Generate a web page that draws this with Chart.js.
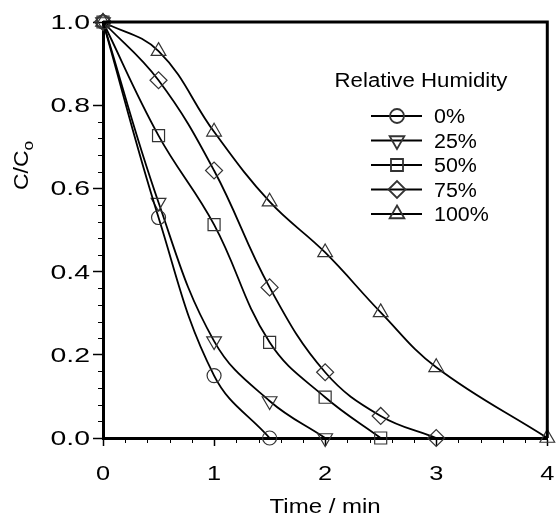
<!DOCTYPE html>
<html>
<head>
<meta charset="utf-8">
<script src="https://cdn.jsdelivr.net/npm/chart.js@4/dist/chart.umd.min.js"></script>
<style>
    html, body { margin: 0; padding: 0; background: #fff; }
    #decayChart { display: block; }
</style>
</head>
<body>
<canvas id="decayChart" width="557" height="518"></canvas>
<script>
// Values
const times = [0, 0.5, 1, 1.5, 2, 2.5, 3, 4];
const humidityLabels = ['0%', '25%', '50%', '75%', '100%'];
const rh0 = [1.0, 0.53, 0.15, 0.0];
const rh25 = [1.0, 0.566, 0.233, 0.089, 0.0];
const rh50 = [1.0, 0.727, 0.513, 0.230, 0.098, 0.0];
const rh75 = [1.0, 0.86, 0.643, 0.362, 0.158, 0.053, 0.0];
const rh100 = [1.0, 0.93, 0.736, 0.568, 0.446, 0.302, 0.170, 0.0];
const xTicks = [0, 1, 2, 3, 4];
const yTicks = [0.0, 0.2, 0.4, 0.6, 0.8, 1.0];

const FONT = "'Liberation Sans', Arial, sans-serif";

const markers = [
    { pointStyle: 'circle', rotation: 0, radius: 7 },
    { pointStyle: 'triangle', rotation: 180, radius: 8.5 },
    { pointStyle: 'rect', rotation: 0, radius: 8.5 },
    { pointStyle: 'rectRot', rotation: 0, radius: 8.5 },
    { pointStyle: 'triangle', rotation: 0, radius: 8.5 }
];

function toPoints(values) {
    return values.map((v, i) => ({ x: times[i], y: v }));
}

const series = [rh0, rh25, rh50, rh75, rh100];
const datasets = series.map((vals, i) => ({
    label: humidityLabels[i],
    data: toPoints(vals),
    borderColor: '#000',
    borderWidth: 1.8,
    tension: 0.4,
    pointStyle: markers[i].pointStyle,
    pointRotation: markers[i].rotation,
    pointRadius: markers[i].radius,
    pointBorderColor: '#333',
    pointBorderWidth: 1.2,
    pointBackgroundColor: 'rgba(0,0,0,0)',
    clip: false
}));

// text in the reference is horizontally stretched, so draw it with a x-scale
function stretchText(ctx, text, x, y, size, sx, align) {
    ctx.save();
    ctx.font = size + 'px ' + FONT;
    const w = ctx.measureText(text).width * sx;
    let left = x;
    if (align === 'center') left = x - w / 2;
    if (align === 'right') left = x - w;
    ctx.translate(left, y);
    ctx.scale(sx, 1);
    ctx.textAlign = 'left';
    ctx.textBaseline = 'alphabetic';
    ctx.fillText(text, 0, 0);
    ctx.restore();
    return w;
}

// tick labels, minor ticks, frame, axis titles and in-plot legend
const decorations = {
    id: 'decorations',
    afterDraw(chart) {
        const ctx = chart.ctx;
        const a = chart.chartArea;
        const xs = chart.scales.x;
        const ys = chart.scales.y;
        ctx.save();

        // minor ticks
        ctx.strokeStyle = '#000';
        ctx.lineWidth = 1;
        for (let i = 0; i <= 20; i++) {
            if (i % 5 === 0) continue;
            const px = Math.round(xs.getPixelForValue(i * 0.2)) + 0.5;
            ctx.beginPath();
            ctx.moveTo(px, a.bottom);
            ctx.lineTo(px, a.bottom + 5);
            ctx.stroke();
            const py = Math.round(ys.getPixelForValue(i * 0.04)) + 0.5;
            ctx.beginPath();
            ctx.moveTo(a.left, py);
            ctx.lineTo(a.left - 5, py);
            ctx.stroke();
        }

        // top and right frame
        ctx.lineWidth = 3;
        ctx.beginPath();
        ctx.moveTo(a.left, a.top);
        ctx.lineTo(a.right, a.top);
        ctx.lineTo(a.right, a.bottom);
        ctx.stroke();

        // tick labels
        ctx.fillStyle = '#000';
        xs.ticks.forEach(t => {
            stretchText(ctx, String(t.value), xs.getPixelForValue(t.value), 480, 19.5, 1.3, 'center');
        });
        ys.ticks.forEach(t => {
            stretchText(ctx, Number(t.value).toFixed(1), 90, ys.getPixelForValue(t.value) + 7, 20, 1.42, 'right');
        });

        // axis titles
        stretchText(ctx, 'Time / min', (a.left + a.right) / 2, 513, 20, 1.2, 'center');

        ctx.save();
        ctx.translate(28, 190);
        ctx.rotate(-Math.PI / 2);
        const w = stretchText(ctx, 'C/C', 0, 0, 20, 1.15, 'left');
        stretchText(ctx, 'o', w, 5, 15, 1.15, 'left');
        ctx.restore();

        // legend
        stretchText(ctx, 'Relative Humidity', 421, 87, 19.5, 1.14, 'center');
        chart.data.datasets.forEach((ds, i) => {
            const y = 116 + i * 24.5;
            ctx.strokeStyle = '#000';
            ctx.lineWidth = 1.8;
            ctx.beginPath();
            ctx.moveTo(371, y);
            ctx.lineTo(422, y);
            ctx.stroke();
            ctx.strokeStyle = '#333';
            ctx.fillStyle = 'rgba(0,0,0,0)';
            Chart.helpers.drawPoint(ctx, {
                pointStyle: ds.pointStyle,
                rotation: ds.pointRotation,
                radius: ds.pointRadius,
                borderWidth: 1.2
            }, 397, y);
            ctx.fillStyle = '#000';
            stretchText(ctx, ds.label, 434, y + 7, 19.5, 1.1, 'left');
        });
        ctx.restore();
    }
};

const ctx = document.getElementById('decayChart').getContext('2d');
const decayChart = new Chart(ctx, {
    type: 'line',
    data: { datasets: datasets },
    options: {
        responsive: false,
        animation: false,
        devicePixelRatio: 1,
        layout: { padding: { top: 22, right: 5, left: 0, bottom: 0 } },
        plugins: { legend: { display: false }, tooltip: { enabled: false } },
        scales: {
            x: {
                type: 'linear',
                min: xTicks[0],
                max: xTicks[xTicks.length - 1],
                afterBuildTicks: s => { s.ticks = xTicks.map(v => ({ value: v })); },
                afterFit: s => { s.height = 80; },
                ticks: { display: false },
                grid: {
                    drawOnChartArea: false,
                    tickLength: 8,
                    tickWidth: 1.5,
                    tickColor: '#000'
                },
                border: { color: '#000', width: 3 }
            },
            y: {
                min: yTicks[0],
                max: yTicks[yTicks.length - 1],
                afterBuildTicks: s => { s.ticks = yTicks.map(v => ({ value: v })); },
                afterFit: s => { s.width = 103; },
                ticks: { display: false },
                grid: {
                    drawOnChartArea: false,
                    tickLength: 10,
                    tickWidth: 1.5,
                    tickColor: '#000'
                },
                border: { color: '#000', width: 3 }
            }
        }
    },
    plugins: [decorations]
});
</script>
</body>
</html>
